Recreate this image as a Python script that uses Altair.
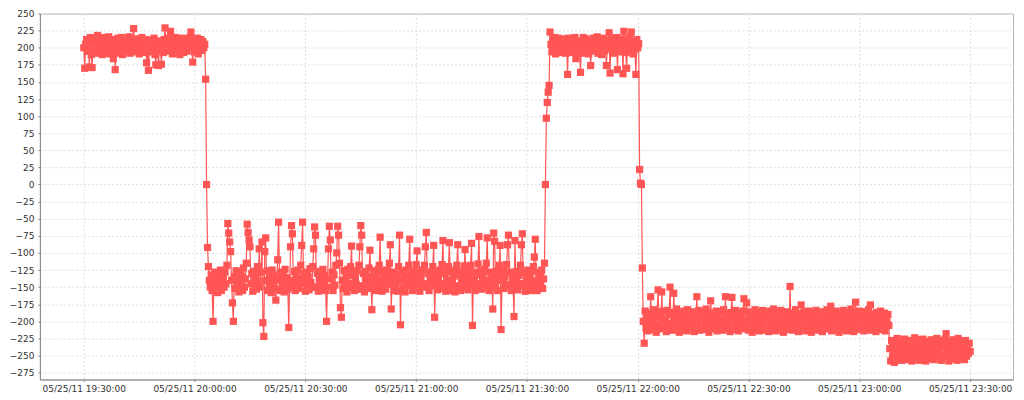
import altair as alt
import pandas as pd

START_TIME = "2011-05-25 19:30:00"
SAMPLE_STEP = "15s"

# segment 1: around +200 (19:30 - 20:03)
values_a = [
    200, 170, 205, 212, 195, 208, 172, 215, 190, 171, 210, 198, 214, 192, 206, 218,
    196, 210, 202, 215, 190, 208, 200, 214, 193, 209, 198, 216, 191, 205, 212, 196,
    184, 207, 168, 210, 198, 214, 192, 206, 200, 215, 190, 209, 203, 213, 195, 208,
    199, 216, 192, 207, 201, 212, 228, 205, 194, 210, 199, 213, 191, 206, 202, 215,
    193, 209, 200, 212, 178, 205, 167, 198, 211, 194, 207, 201, 214, 190, 175, 205,
    196, 174, 210, 199, 176, 206, 193, 212, 229, 204, 195, 210, 200, 214, 224, 198,
    191, 208, 202, 215, 194, 209, 198, 213, 190, 206, 201, 214, 193, 208, 199, 212,
    195, 207, 202, 215, 223, 200, 179, 206, 194, 211, 198, 214, 191, 207, 201, 212,
    196, 209, 200, 205]
trans_ab = [154, 0, -92, -120]
# segment 2: around -140 (20:03 - 21:32)
values_b = [
    -140, -150, -132, -155, -200, -145, -128, -152, -138, -158, -130, -147, -125, -155, -140, -133,
    -150, -128, -145, -118, -57, -71, -84, -98, -140, -173, -200, -135, -152, -126, -148, -132,
    -157, -128, -145, -135, -155, -122, -150, -138, -115, -58, -70, -81, -91, -145, -130, -156,
    -127, -148, -135, -153, -120, -142, -94, -150, -128, -84, -202, -222, -98, -78, -140, -155,
    -126, -150, -135, -158, -125, -145, -132, -152, -169, -140, -110, -55, -138, -155, -128, -148,
    -133, -157, -124, -146, -136, -153, -209, -140, -91, -60, -72, -150, -127, -155, -135, -147,
    -125, -152, -138, -118, -89, -55, -145, -130, -156, -128, -148, -135, -154, -123, -143, -150,
    -120, -94, -62, -74, -150, -130, -156, -127, -147, -136, -153, -124, -145, -133, -155, -200,
    -138, -94, -61, -81, -150, -128, -155, -132, -147, -118, -100, -61, -74, -115, -180, -194,
    -140, -152, -126, -148, -135, -157, -124, -145, -133, -120, -90, -150, -128, -155, -137, -146,
    -126, -153, -118, -91, -60, -74, -148, -130, -157, -127, -145, -135, -152, -122, -96, -140,
    -183, -135, -150, -126, -155, -133, -147, -124, -118, -77, -140, -156, -128, -150, -136, -153,
    -125, -146, -134, -115, -88, -182, -142, -128, -155, -131, -148, -137, -156, -120, -74, -205,
    -140, -127, -152, -133, -157, -125, -146, -136, -118, -80, -148, -130, -155, -127, -145, -135,
    -117, -97, -152, -128, -156, -132, -147, -125, -150, -118, -91, -70, -145, -130, -155, -128,
    -148, -136, -120, -89, -194, -140, -127, -154, -133, -150, -125, -145, -117, -82, -152, -130,
    -156, -128, -146, -120, -85, -140, -155, -127, -150, -134, -157, -125, -118, -88, -148, -131,
    -155, -128, -146, -136, -119, -95, -150, -126, -154, -133, -147, -118, -86, -206, -140, -128,
    -155, -132, -148, -116, -76, -145, -127, -153, -135, -150, -124, -146, -115, -78, -140, -155,
    -128, -150, -134, -182, -71, -83, -145, -127, -155, -132, -118, -89, -212, -140, -126, -152,
    -135, -148, -117, -88, -74, -146, -128, -155, -131, -150, -193, -82, -140, -127, -154, -133,
    -147, -118, -88, -72, -145, -128, -156, -130, -150, -125, -147, -136, -155, -126, -145, -120,
    -106, -80, -140, -155, -128, -150, -133, -147, -125, -152, -138, -115]
trans_bc = [0, 97, 120, 135, 145]
# segment 3: around +200 (21:32 - 21:57)
values_c = [
    223, 205, 194, 212, 199, 215, 191, 208, 201, 214, 196, 210, 193, 206, 213, 198,
    209, 192, 205, 161, 214, 199, 207, 193, 212, 201, 196, 215, 184, 205, 198, 210,
    194, 164, 208, 200, 215, 192, 206, 213, 197, 209, 191, 204, 174, 211, 199, 214,
    195, 207, 201, 216, 192, 209, 198, 212, 190, 205, 214, 196, 208, 174, 200, 211,
    222, 163, 206, 197, 213, 192, 208, 201, 215, 168, 204, 194, 210, 199, 213, 162,
    224, 206, 193, 170, 211, 200, 214, 195, 223, 203, 191, 209, 198, 161, 212, 200,
    206]
trans_cd = [22, 2, 0, -122]
# segment 4: around -200 (21:58 - 23:08)
values_d = [
    -200, -232, -185, -210, -195, -214, -188, -205, -164, -198, -212, -183, -207, -192, -216, -186,
    -154, -204, -193, -211, -157, -199, -185, -209, -196, -215, -184, -203, -190, -150, -208, -187,
    -213, -159, -195, -206, -182, -210, -192, -216, -188, -202, -197, -212, -185, -205, -191, -214,
    -183, -207, -196, -211, -186, -201, -194, -215, -189, -204, -164, -209, -184, -213, -193, -200,
    -187, -212, -195, -206, -182, -210, -190, -216, -198, -170, -203, -188, -211, -194, -207, -185,
    -214, -192, -200, -186, -209, -197, -213, -183, -205, -164, -210, -189, -202, -195, -215, -187,
    -165, -208, -191, -212, -184, -203, -196, -214, -188, -206, -193, -210, -185, -167, -200, -211,
    -173, -198, -213, -186, -205, -192, -216, -189, -207, -183, -211, -195, -202, -187, -214, -194,
    -204, -184, -210, -197, -213, -188, -200, -191, -215, -185, -208, -196, -212, -182, -206, -193,
    -214, -187, -203, -198, -211, -184, -209, -192, -216, -190, -205, -186, -212, -195, -201, -149,
    -207, -188, -213, -194, -200, -183, -210, -196, -215, -189, -204, -176, -211, -193, -207, -186,
    -214, -197, -202, -185, -209, -191, -216, -188, -206, -194, -212, -184, -203, -199, -213, -187,
    -208, -192, -215, -186, -201, -196, -211, -183, -210, -190, -205, -178, -214, -193, -200, -188,
    -212, -185, -207, -197, -216, -189, -203, -194, -211, -184, -209, -191, -214, -187, -202, -196,
    -213, -182, -206, -193, -215, -188, -172, -204, -197, -210, -185, -212, -190, -201, -195, -214,
    -186, -208, -194, -211, -183, -205, -176, -213, -189, -207, -196, -202, -215, -187, -210, -192,
    -204, -185, -212, -196, -208, -188, -214, -193, -201, -190, -206]
# segment 5: around -240 (23:08 - 23:30)
values_e = [
    -240, -258, -228, -252, -236, -260, -231, -248, -225, -255, -238, -246, -229, -257, -234, -250,
    -226, -253, -241, -232, -256, -228, -247, -237, -258, -230, -244, -224, -254, -235, -249, -227,
    -257, -239, -231, -252, -226, -245, -236, -258, -229, -250, -240, -233, -255, -227, -247, -238,
    -256, -230, -243, -225, -253, -235, -249, -228, -257, -237, -232, -251, -226, -218, -246, -239,
    -258, -229, -244, -234, -255, -227, -250, -238, -231, -257, -225, -248, -236, -253, -230, -246,
    -239, -256, -228, -251, -235, -247, -232, -244]

y_ticks = list(range(-275, 251, 25))
x_tick_hours = [(19, 30), (20, 0), (20, 30), (21, 0), (21, 30), (22, 0), (22, 30), (23, 0), (23, 30)]
LINE_COLOR = "#ff5555"

values = values_a + trans_ab + values_b + trans_bc + values_c + trans_cd + values_d + values_e
times = pd.date_range(START_TIME, periods=len(values), freq=SAMPLE_STEP)
df = pd.DataFrame({"time": times.strftime("%Y-%m-%dT%H:%M:%S"), "value": values})


def dt(h, m, s=0):
    return alt.DateTime(year=2011, month=5, date=25, hours=h, minutes=m, seconds=s)


x_enc = alt.X(
    "time:T",
    scale=alt.Scale(domain=[dt(19, 18, 7), dt(23, 41, 37)]),
    axis=alt.Axis(
        title=None,
        format="%m/%d/%y %H:%M:%S",
        values=[dt(h, m) for h, m in x_tick_hours],
        labelFlush=False,
        labelOverlap=False,
        labelPadding=3,
    ),
)
y_enc = alt.Y(
    "value:Q",
    scale=alt.Scale(domain=[-285, 250], nice=False, zero=False),
    axis=alt.Axis(title=None, values=y_ticks, labelPadding=4),
)

base = alt.Chart(df)
line = base.mark_line(color=LINE_COLOR, strokeWidth=1.2).encode(x=x_enc, y=y_enc)
pts = base.mark_point(shape="square", filled=True, size=52, opacity=1, color=LINE_COLOR).encode(x=x_enc, y=y_enc)

chart = (
    alt.layer(line, pts)
    .properties(
        width=976,
        height=367,
        autosize=alt.AutoSizeParams(type="none"),
        padding={"left": 32, "top": 5, "right": 3, "bottom": 14},
        background="white",
    )
    .configure_axis(
        labelFont="DejaVu Sans",
        labelFontSize=9,
        labelColor="#333333",
        domainColor="#888888",
        tickColor="#888888",
        tickSize=2,
        gridColor="#dddddd",
        gridDash=[2, 2],
        gridWidth=1,
    )
    .configure_view(stroke="#b4b4b4", strokeWidth=1)
)

chart.save("out.html", embed_options={"renderer": "svg", "actions": False})
